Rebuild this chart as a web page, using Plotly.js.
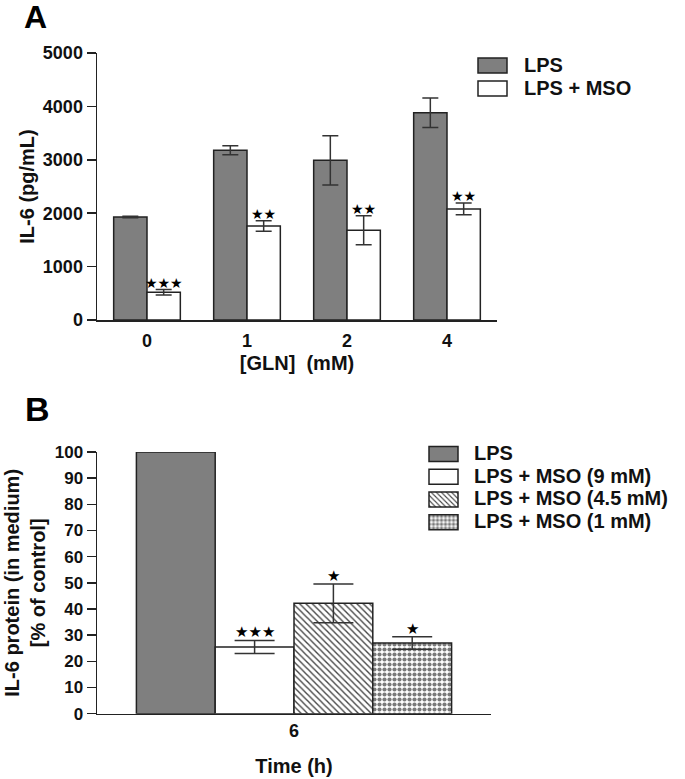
<!DOCTYPE html>
<html><head><meta charset="utf-8">
<script src="https://cdn.plot.ly/plotly-3.0.1.min.js"></script>
<style>html,body{margin:0;padding:0;background:#fff}</style>
</head><body>
<div id="chart" style="width:685px;height:779px"></div>
<script>
// ---- Panel A data ----
const glnCategories = ['0', '1', '2', '4'];
const lpsA = [1930, 3180, 2990, 3880];
const lpsAErr = [15, 85, 460, 275];
const msoA = [520, 1760, 1680, 2080];
const msoAErr = [50, 100, 270, 110];
const msoAStars = ['★★★', '★★', '★★', '★★'];
const seriesANames = ['LPS', 'LPS + MSO'];

// ---- Panel B data ----
const timeCategories = ['6'];
const seriesBNames = ['LPS', 'LPS + MSO (9 mM)', 'LPS + MSO (4.5 mM)', 'LPS + MSO (1 mM)'];
const lpsB = [100];
const lpsBErr = [0];
const mso9B = [25.5];
const mso9BErr = [2.5];
const mso45B = [42.2];
const mso45BErr = [7.4];
const mso1B = [27.0];
const mso1BErr = [2.4];
const starsB = ['', '★★★', '★', '★'];

const FONT = 'Liberation Sans, Arial, Helvetica, sans-serif';
const W = 685, H = 779;
const ink = '#222';
const gapA = 1/3, gapB = 0.2;

function errY(arr, w) {
  return {type: 'data', array: arr, visible: true, color: '#333', thickness: 1.5, width: w};
}
const outline = {color: ink, width: 1.5};

// panel B bar geometry from its own gap
const bVals = [lpsB, mso9B, mso45B, mso1B];
const bErrs = [lpsBErr, mso9BErr, mso45BErr, mso1BErr];
const nB = bVals.length;
const bWidth = (1 - gapB) / nB;
const bOffset = k => -(1 - gapB) / 2 + k * bWidth;
const bFills = [
  {color: '#7f7f7f', line: outline},
  {color: '#ffffff', line: outline},
  {color: '#ffffff', line: outline,
   pattern: {shape: '\\', fgcolor: '#444', bgcolor: '#ffffff', size: 4.5, solidity: 0.3}},
  {color: '#ffffff', line: outline,
   pattern: {shape: '.', fgcolor: '#7a7a7a', bgcolor: '#ffffff', size: 5, solidity: 0.55}}
];
const bCaps = [0, 20, 20, 20];

const traces = [
  {type: 'bar', name: seriesANames[0], x: glnCategories, y: lpsA, error_y: errY(lpsAErr, 8),
   marker: {color: '#7f7f7f', line: outline}, xaxis: 'x', yaxis: 'y', legend: 'legend'},
  {type: 'bar', name: seriesANames[1], x: glnCategories, y: msoA, error_y: errY(msoAErr, 8),
   marker: {color: '#ffffff', line: outline}, xaxis: 'x', yaxis: 'y', legend: 'legend'}
];
bVals.forEach((arr, k) => {
  traces.push({type: 'bar', name: seriesBNames[k], x: timeCategories, y: arr,
    width: bWidth, offset: bOffset(k),
    error_y: errY(bErrs[k], bCaps[k]), marker: bFills[k],
    xaxis: 'x2', yaxis: 'y2', legend: 'legend2'});
});

// star annotations computed from data
const annotations = [];
const offA = (1 - gapA) / 4;
msoA.forEach((v, i) => {
  annotations.push({xref: 'x', yref: 'y', x: i + offA, y: v + msoAErr[i], text: msoAStars[i],
    showarrow: false, yanchor: 'bottom', yshift: -3,
    font: {family: 'DejaVu Sans', size: 14, color: '#000'}});
});
bVals.forEach((arr, k) => {
  if (!starsB[k]) return;
  annotations.push({xref: 'x2', yref: 'y2', x: bOffset(k) + bWidth / 2, y: arr[0] + bErrs[k][0], text: starsB[k],
    showarrow: false, yanchor: 'bottom', yshift: -3,
    font: {family: 'DejaVu Sans', size: 15, color: '#000'}});
});
// panel letters
annotations.push({xref: 'paper', yref: 'paper', x: 22 / W, y: 1 - 17 / H, xanchor: 'left', yanchor: 'middle',
  text: 'A', showarrow: false, font: {family: FONT, size: 32, weight: 700, color: '#000'}});
annotations.push({xref: 'paper', yref: 'paper', x: 23 / W, y: 1 - 409 / H, xanchor: 'left', yanchor: 'middle',
  text: 'B', showarrow: false, font: {family: FONT, size: 34, weight: 700, color: '#000'}});

const tickFont = {family: FONT, size: 18, weight: 700, color: '#111'};
const titleFont = {family: FONT, size: 20, weight: 700, color: '#111'};
const axBase = {showline: true, linecolor: ink, linewidth: 1.5, showgrid: false, zeroline: false,
  tickfont: tickFont, fixedrange: true};

const layout = {
  width: W, height: H,
  margin: {l: 0, r: 0, t: 0, b: 0},
  paper_bgcolor: '#fff', plot_bgcolor: '#fff',
  font: {family: FONT, color: '#111'},
  barmode: 'group', bargap: gapA, bargroupgap: 0,
  xaxis: Object.assign({}, axBase, {domain: [97 / W, 497 / W], anchor: 'y', type: 'category',
    range: [-0.5, 3.5], ticks: '', ticklabelstandoff: 4,
    title: {text: '[GLN]\u00a0 (mM)', font: titleFont, standoff: 6}}),
  yaxis: Object.assign({}, axBase, {domain: [1 - 320 / H, 1 - 53 / H], anchor: 'x', range: [0, 5000],
    tickvals: [0, 1000, 2000, 3000, 4000, 5000], ticks: 'outside', ticklen: 9, tickwidth: 1.5, tickcolor: ink,
    title: {text: 'IL-6 (pg/mL)', font: titleFont, standoff: 3}}),
  xaxis2: Object.assign({}, axBase, {domain: [97 / W, 491 / W], anchor: 'y2', type: 'category',
    range: [-0.5, 0.5], ticks: '', title: {text: 'Time (h)', font: titleFont, standoff: 19}}),
  yaxis2: Object.assign({}, axBase, {domain: [1 - 713.7 / H, 1 - 452 / H], anchor: 'x2', range: [0, 100],
    tickvals: [0, 10, 20, 30, 40, 50, 60, 70, 80, 90, 100], ticks: 'outside', ticklen: 9, tickwidth: 1.5, tickcolor: ink,
    tickfont: {family: FONT, size: 17, weight: 700, color: '#111'},
    title: {text: 'IL-6 protein (in medium)<br>[% of control]', font: titleFont, standoff: 3}}),
  legend: {x: 461 / W, y: 1 - 49 / H, xanchor: 'left', yanchor: 'top', bgcolor: 'rgba(0,0,0,0)',
    borderwidth: 0, itemwidth: 53, font: {family: FONT, size: 15.4, weight: 700, color: '#111'}},
  legend2: {x: 413 / W, y: 1 - 437.6 / H, xanchor: 'left', yanchor: 'top', bgcolor: 'rgba(0,0,0,0)',
    borderwidth: 0, itemwidth: 51, font: {family: FONT, size: 15.2, weight: 700, color: '#111'}},
  showlegend: true,
  annotations: annotations
};

function restyleLegends() {
  const root = document.getElementById('chart');
  root.querySelectorAll('g.infolayer > g').forEach(leg => {
    const cls = leg.getAttribute('class') || '';
    if (!/^legend\d*$/.test(cls)) return;
    leg.removeAttribute('clip-path');
    leg.querySelectorAll('[clip-path]').forEach(e => e.removeAttribute('clip-path'));
    leg.querySelectorAll('text').forEach(t => {
      const c = t.getAttribute('class') || '';
      if (/^legend\d*text$/.test(c)) t.style.fontSize = '20px';
    });
    leg.querySelectorAll('.legendpoints path').forEach(p => p.setAttribute('d', 'M14.5,7.5H-14.5V-7.5H14.5Z'));
  });
}

Plotly.newPlot('chart', traces, layout, {displayModeBar: false, staticPlot: true}).then(gd => {
  restyleLegends();
  setTimeout(restyleLegends, 0);
  setTimeout(restyleLegends, 200);
});
</script>
</body></html>
